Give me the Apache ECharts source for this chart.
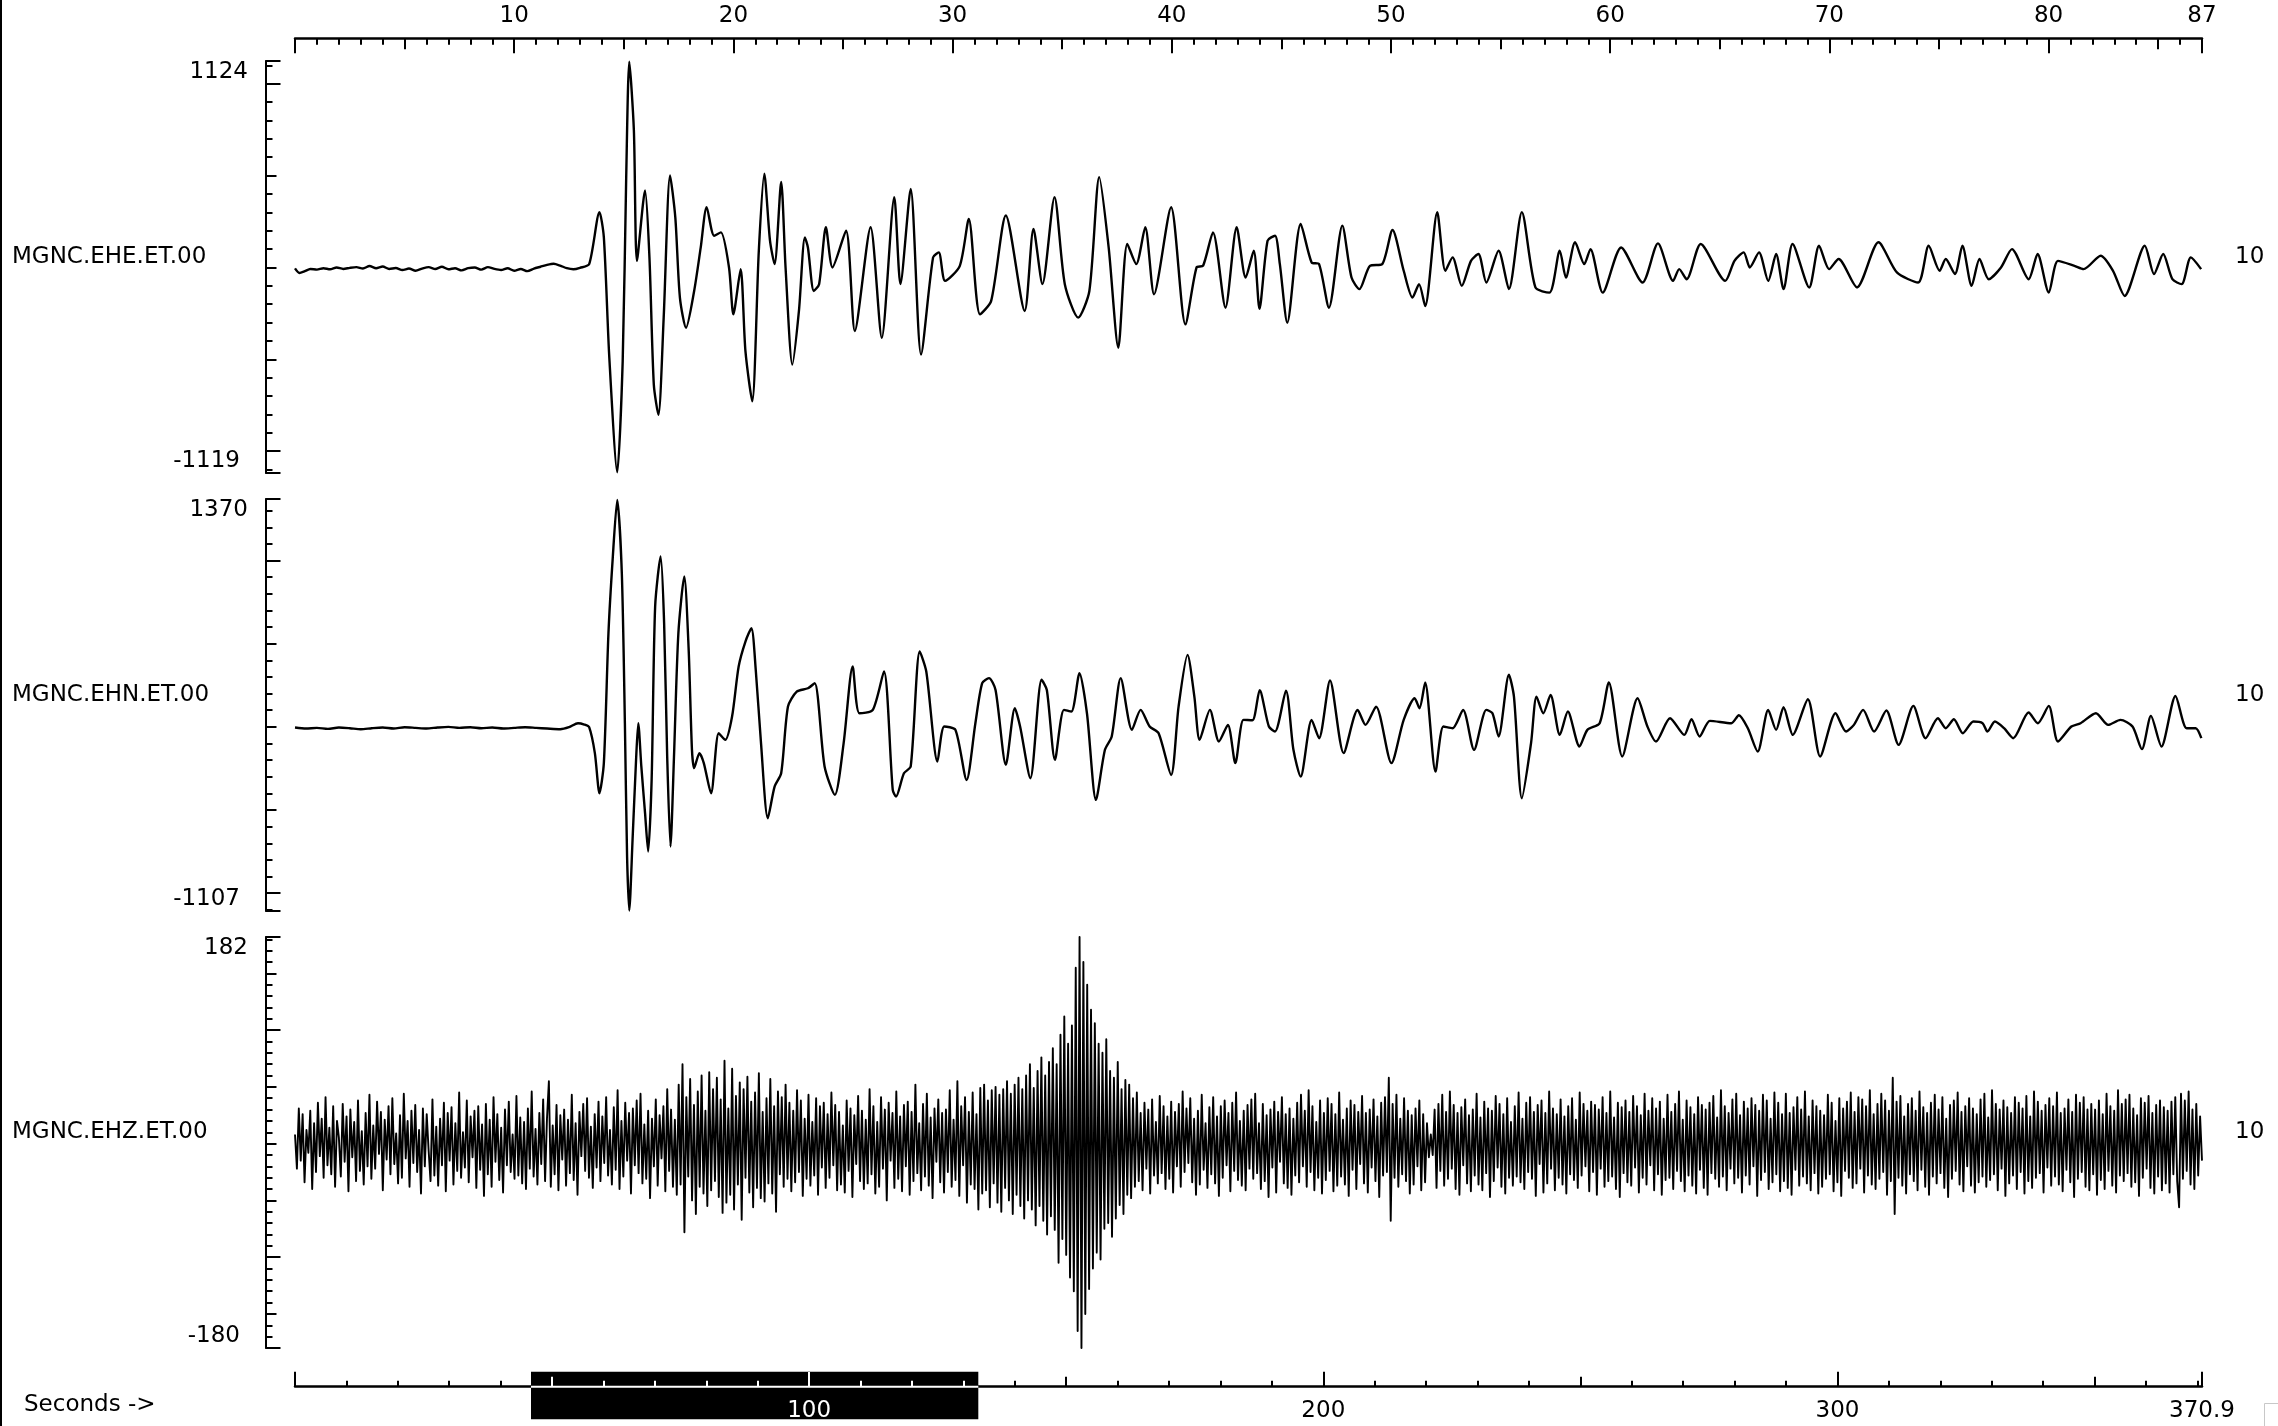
<!DOCTYPE html>
<html><head><meta charset="utf-8">
<script src="https://cdn.jsdelivr.net/npm/echarts@6/dist/echarts.min.js"></script>
<style>html,body{margin:0;padding:0;background:#fff}#c{width:2278px;height:1426px}</style>
</head><body><div id="c"></div>
<script>
// ---------------- data ----------------
const stationNames = ['MGNC.EHE.ET.00', 'MGNC.EHN.ET.00', 'MGNC.EHZ.ET.00'];
const scaleLabels = ['10', '10', '10'];
const ampMax = [1124, 1370, 182];
const ampMin = [-1119, -1107, -180];
const windowSeconds = 87;
const totalSeconds = 370.9;
const windowStart = 45.9;
const windowEnd = 132.9;
const topMajorLabels = [10, 20, 30, 40, 50, 60, 70, 80, 87];
const bottomMajorLabels = [100, 200, 300, 370.9];
const bottomAxisTitle = 'Seconds ->';

const eheTime = [0,0.2,0.45,0.7,1.0,1.3,1.6,1.9,2.2,2.5,2.8,3.1,3.4,3.7,4.0,4.3,4.6,4.9,5.2,5.5,5.8,6.1,6.4,6.7,7.0,7.3,7.6,7.9,8.2,8.5,8.8,9.1,9.4,9.7,10.0,10.3,10.6,10.9,11.2,11.5,11.8,12.1,12.4,12.7,13.0,13.42,
13.89,14.09,14.34,14.70,14.95,15.11,15.25,15.46,15.60,15.97,16.17,16.37,16.58,16.82,17.11,17.35,17.56,17.84,18.21,18.51,18.78,19.12,19.43,19.80,20.00,20.33,20.55,20.86,21.16,21.41,21.67,21.88,22.18,22.38,22.69,22.99,23.26,23.40,23.67,23.91,24.22,24.52,25.14,25.54,26.26,26.77,27.34,27.62,28.09,28.56,29.11,29.37,29.66,30.33,30.74,31.25,31.76,32.43,33.29,33.69,34.10,34.65,35.12,35.73,36.24,36.69,37.12,37.56,37.97,38.38,38.79,39.19,39.97,40.62,41.13,41.43,41.88,42.45,42.96,43.37,43.74,44.00,
44.37,44.71,44.93,45.27,45.88,46.38,46.72,47.17,47.78,48.20,48.56,49.04,49.60,50.07,50.58,50.98,51.28,51.56,52.11,52.48,52.81,53.23,53.65,53.99,54.35,54.91,55.38,55.97,56.59,57.23,57.70,57.98,58.40,58.82,59.10,59.66,60.50,61.48,62.18,62.87,63.15,63.49,64.13,65.25,65.67,66.09,66.37,66.79,67.21,67.57,67.91,68.32,69.08,69.53,69.99,70.42,71.26,72.24,73.08,74.05,74.53,75.03,75.31,75.73,76.07,76.49,76.85,77.27,77.83,78.33,79.09,79.50,80.01,80.43,81.18,81.60,82.38,82.94,83.47,84.39,84.81,85.23,85.65,86.07,86.49,86.96];
const eheAmp = [-5,-30,-20,-8,-12,-4,-10,0,-8,-2,2,-6,8,-4,5,-8,-3,-14,-6,-18,-6,2,-8,4,-10,-4,-16,-4,0,-12,2,-8,-14,-4,-18,-8,-20,-6,4,14,20,10,-4,-10,-2,18,
301,164,-492,-1115,-510,492,1120,747,36,419,55,-638,-802,-273,501,273,-164,-328,-128,109,328,173,191,0,-255,-9,-456,-729,91,510,146,18,465,0,-529,-237,164,109,-128,-91,219,0,200,-346,219,-383,383,-91,428,-474,55,82,-73,9,264,-255,-182,283,-237,210,-91,383,-91,-273,-128,492,109,-437,128,18,219,-146,328,-310,0,10,191,-219,219,-55,91,-225,
146,173,18,-301,237,27,18,-219,228,-55,-118,9,18,204,-18,-164,-91,-210,301,-18,55,-100,36,73,-82,91,-118,301,-109,-137,91,-55,137,18,100,-137,109,-82,131,-73,-9,-64,128,-73,36,82,0,82,-73,73,-118,128,-109,118,-9,46,-109,137,-27,-82,118,-18,46,-36,118,-100,46,-64,0,100,-64,73,-137,36,9,-9,64,-18,-155,118,-36,73,-64,-91,55,-9];

const ehnTime = [0,0.5,1.0,1.5,2.0,2.5,3.0,3.5,4.0,4.5,5.0,5.5,6.0,6.5,7.0,7.5,8.0,8.5,9.0,9.5,10.0,10.5,11.0,11.5,12.1,12.5,12.91,13.2,13.42,
13.68,13.89,14.09,14.30,14.50,14.70,14.91,15.05,15.15,15.25,15.40,15.56,15.66,15.80,15.97,16.11,16.27,16.43,16.68,16.84,16.98,17.13,17.29,17.49,17.76,17.96,18.11,18.21,18.45,18.65,18.98,19.33,19.63,19.94,20.24,20.55,20.82,21.02,21.26,21.57,21.88,22.18,22.49,22.89,23.40,23.71,24.16,24.63,25.03,25.44,25.75,26.36,26.87,27.27,27.42,27.78,28.09,28.50,28.80,29.31,29.62,30.13,30.64,31.04,31.35,31.66,31.96,32.43,32.84,33.08,33.55,34.06,34.30,34.67,35.08,35.42,35.79,36.13,36.54,36.95,37.26,37.67,38.18,38.58,38.99,39.40,39.97,40.31,40.72,41.03,41.27,41.74,42.15,42.56,42.90,43.27,43.68,44.01,
44.43,44.71,45.21,45.55,45.88,46.38,46.72,47.22,47.84,48.48,48.84,49.32,50.02,50.58,51.08,51.30,51.56,52.03,52.39,52.81,53.29,53.79,54.35,54.63,54.91,55.38,55.61,55.97,56.39,56.64,56.95,57.28,57.70,58.07,58.60,58.96,59.52,59.94,60.55,61.25,61.70,62.09,62.73,63.38,63.71,64.08,64.55,65.53,65.87,66.28,66.73,67.21,67.57,67.91,68.33,69.02,69.58,70.28,70.76,71.12,71.54,72.04,72.60,73.16,73.83,74.39,74.95,75.31,75.68,76.09,76.57,76.99,77.21,77.55,77.97,78.39,79.09,79.51,80.01,80.43,81.04,81.46,82.16,82.72,83.28,83.83,84.26,84.67,85.15,85.79,86.30,86.71,86.97];
const ehnAmp = [-4,-10,-6,-12,-4,-8,-14,-8,-4,-10,-2,-6,-10,-4,0,-6,-2,-8,-4,-10,-6,-2,-6,-10,-14,-2,22,14,-2,
-158,-399,-218,563,1024,1365,924,22,-780,-1104,-679,-198,22,-238,-519,-749,-319,723,1024,623,-178,-719,-178,563,904,463,-138,-248,-158,-218,-399,-38,-78,62,363,513,593,343,-98,-549,-359,-279,122,212,232,263,-238,-409,-98,363,82,102,333,-379,-419,-279,-238,453,333,-208,2,-18,-319,22,263,293,222,-228,112,2,-309,283,222,-198,102,92,323,82,-439,-138,-58,293,-18,102,2,-38,-289,122,433,182,-78,102,-88,12,-218,42,40,220,
2,-28,218,-138,-299,42,-68,279,-158,102,12,122,-218,42,172,112,267,-269,2,-8,102,-138,102,82,-58,313,182,-429,-98,182,82,192,-48,92,-118,-18,22,267,-178,172,2,-88,52,-48,46,-58,36,22,70,-8,-148,102,-18,118,-48,166,-178,82,-28,12,102,-28,98,-108,126,-68,52,-8,46,-38,32,22,-28,32,-8,-68,86,22,126,-88,2,22,82,12,42,2,-134,66,-118,186,-8,-8,-68];

// EHZ samples, evenly spaced over the 87 s window
const ehzAmp = [
8,-22,31,-15,26,-34,12,-8,29,-40,18,-25,36,-11,22,-30,41,-19,14,-27,
33,-38,20,5,-29,35,-16,24,-42,30,-12,19,-33,38,-24,11,-36,27,-20,43,
-31,16,-22,37,-9,28,-41,21,-14,33,-27,40,-18,9,-35,25,-30,44,-13,20,
-38,29,-17,34,-25,12,-44,31,-20,26,-6,-33,39,-28,15,-37,22,-19,36,-42,
27,-15,32,-36,18,-24,45,-30,10,-21,38,-34,24,-12,29,-39,33,-23,17,-46,
35,-27,21,-38,41,-16,26,-32,14,-43,30,-19,37,-25,8,-31,42,-28,23,-35,
19,-40,31,-22,46,-29,13,-36,27,-18,39,-33,22,55,-38,16,-27,34,-41,25,
-14,30,-37,21,-26,43,-32,18,-45,28,-11,35,-24,40,-30,15,-39,26,-21,37,
-33,24,-17,41,-28,12,-36,32,-23,47,-40,20,-29,36,-15,27,-44,31,-19,38,
-26,44,-35,17,-31,29,-48,22,-20,39,-37,25,-13,33,-42,48,-24,30,-38,21,
-45,52,-36,70,-78,41,-29,57,-50,34,-62,46,-38,60,-44,29,-55,63,-41,48,
-33,58,-47,39,-61,73,-52,31,-45,66,-58,42,-36,54,-67,48,-30,59,-43,37,
-56,45,-39,62,-48,28,-51,40,-35,57,-44,33,-60,46,-27,41,-38,52,-31,36,
-42,29,-34,47,-25,38,-46,22,-31,43,-37,19,-28,40,-45,33,-21,36,-39,26,
-30,45,-19,34,-41,28,-36,16,-43,38,-24,31,-47,25,-18,42,-33,29,-40,21,
-35,48,-27,33,-44,19,-38,41,-22,30,-50,36,-15,27,-39,46,-31,24,-42,34,
-20,37,-45,28,-33,52,-26,18,-41,35,-29,44,-37,23,-48,31,-16,39,-34,27,
-43,30,-25,47,-38,21,-32,55,-46,33,-19,41,-52,28,-36,45,-40,26,-58,49,
-44,52,-41,38,-56,47,-35,50,-52,43,-60,48,-39,55,-50,44,-62,52,-45,58,
-55,48,-66,60,-50,70,-58,49,-72,64,-55,76,-68,60,-80,72,-64,84,-76,70,
-105,96,-84,112,-98,88,-118,104,-130,155,-165,182,-180,160,-150,140,-128,118,-110,106,
-96,88,-102,80,-75,92,-70,64,-82,58,-66,72,-54,48,-62,56,-45,52,-48,40,
-38,45,-33,27,-41,36,-22,30,-44,39,-28,19,-35,42,-26,33,-40,24,-31,37,
-43,28,-20,35,-38,46,-25,31,-17,40,-34,22,-45,29,-36,43,-23,18,-39,32,
-27,41,-35,24,-46,33,-30,38,-19,27,-42,36,-24,45,-32,20,-37,29,-41,34,
-22,39,-31,44,-26,18,-40,35,-33,25,-47,30,-21,37,-43,28,-16,41,-35,26,
-39,31,-45,22,-28,36,-34,43,-20,29,-38,47,-25,33,-41,19,-30,38,-44,27,
-32,40,-24,35,-42,26,-37,45,-29,21,-36,31,-46,38,-23,34,-40,28,-18,42,
-35,27,-43,30,-21,39,-33,24,-47,36,-28,41,-25,58,-68,35,-30,43,-38,22,
-27,40,-33,29,-44,25,-36,31,-20,38,-41,26,-34,18,-12,8,-10,30,-39,35,
-24,43,-37,28,-31,46,-22,34,-40,27,-45,32,-19,39,-35,25,-42,30,-28,44,
-36,23,-41,37,-26,31,-47,29,-33,42,-21,35,-38,26,-44,40,-30,19,-37,33,
-29,45,-34,22,-40,36,-25,41,-31,28,-46,34,-18,38,-43,27,-35,46,-22,31,
-41,26,-30,39,-36,24,-44,33,-27,40,-32,21,-39,45,-28,35,-20,29,-42,37,
-25,34,-45,30,-22,41,-38,27,-33,46,-29,23,-40,36,-47,32,-26,38,-34,28,
-37,42,-21,33,-43,25,-30,44,-36,29,-19,40,-41,31,-27,37,-45,22,-32,43,
-30,28,-40,35,-24,46,-33,21,-42,38,-28,32,-37,26,-44,41,-23,34,-39,30,
-45,36,-26,42,-31,23,-38,47,-29,33,-41,27,-22,39,-35,44,-30,25,-43,37,
-28,31,-36,40,-20,34,-46,29,-32,43,-25,38,-40,22,-34,45,-27,36,-42,26,
-33,44,-39,27,-45,32,-23,41,-37,30,-29,46,-35,24,-41,38,-26,33,-44,29,
-38,25,-31,43,-27,36,-42,20,-34,40,-46,31,-24,37,-30,45,-39,28,-35,41,
-22,39,-43,33,-28,47,-36,26,-40,35,-31,44,-25,38,-45,29,-33,58,-62,37,
-30,42,-37,24,-44,35,-27,40,-33,29,-41,46,-23,32,-38,27,-45,36,-29,43,
-35,30,-26,41,-39,22,-47,34,-31,38,-24,45,-36,28,-42,33,-20,40,-37,31,
-43,26,-34,39,-29,44,-38,23,-32,47,-27,35,-41,30,-22,38,-46,32,-35,27,
-28,41,-40,36,-25,31,-44,42,-33,24,-39,46,-30,37,-26,29,-43,34,-21,40,
-37,33,-29,45,-36,27,-42,31,-23,39,-34,28,-47,43,-31,36,-25,41,-38,30,
-41,35,-27,30,-45,38,-32,26,-40,44,-24,33,-37,29,-43,47,-28,35,-33,39,
-26,43,-38,31,-34,25,-46,40,-30,36,-22,42,-39,27,-44,34,-29,38,-41,32,
-35,29,-43,37,-27,41,-33,-56,44,-31,38,-24,46,-36,30,-40,35,-28,24,-15];

// ---------------- layout / style ----------------
const FONT = 'DejaVu Sans';
const FS = 23;
const PLOT_L = 295, PLOT_W = 1907;
const panelTops = [61, 499, 937];
const panelHs = [412, 412, 411];
const Y_AXIS_OFFSET = 29.5;
const TOP_AXIS_OFFSET = 22.3;
const minorStepY = [100, 100, 10], medStepY = [500, 500, 50], majorStepY = [1000, 1000, 100];

function multiples(lo, hi, step) {
  const out = [];
  for (let k = Math.ceil(lo / step - 1e-9); k * step <= hi + 1e-9; k++) out.push(+(k * step).toFixed(6));
  return out;
}
const fmt = v => String(v);

const topMajor = multiples(0, windowSeconds, 10).concat([windowSeconds]);
const topMed = multiples(0, windowSeconds, 5).filter(v => v % 10 !== 0);
const topMinor = multiples(0, windowSeconds, 1).filter(v => v % 5 !== 0);
const botMajor = multiples(0, totalSeconds, 100).concat([totalSeconds]);
const botMed = multiples(0, totalSeconds, 50).filter(v => v % 100 !== 0);
const botMinor = multiples(0, totalSeconds, 10).filter(v => v % 50 !== 0);
const inWin = v => v > windowStart && v < windowEnd;

const xAxes = [];
const yAxes = [];
const grids = [];
for (let p = 0; p < 3; p++) grids.push({ left: PLOT_L, top: panelTops[p], width: PLOT_W, height: panelHs[p], containLabel: false });
grids.push({ left: PLOT_L, top: 1360, width: PLOT_W, height: 26.7, containLabel: false });

const noLine = { show: false, onZero: false };
function tickAxisX(gridIndex, min, max, position, offset, vals, len, color, opts) {
  return Object.assign({
    type: 'value', gridIndex, min, max, position, offset,
    axisLine: noLine,
    axisTick: { show: true, inside: true, length: len, customValues: vals, lineStyle: { color, width: 2 } },
    axisLabel: { show: false },
    splitLine: { show: false }
  }, opts || {});
}
xAxes.push(tickAxisX(0, 0, windowSeconds, 'top', TOP_AXIS_OFFSET, topMajor, 14.5, '#000', {
  axisLine: { show: true, onZero: false, lineStyle: { color: '#000', width: 2.5 } },
  axisLabel: { show: true, customValues: topMajorLabels, formatter: fmt, fontFamily: FONT, fontSize: FS, color: '#000', margin: 11 }
}));
xAxes.push(tickAxisX(0, 0, windowSeconds, 'top', TOP_AXIS_OFFSET, topMed, 10.5, '#000'));
xAxes.push(tickAxisX(0, 0, windowSeconds, 'top', TOP_AXIS_OFFSET, topMinor, 6, '#000'));
xAxes.push({ type: 'value', gridIndex: 1, min: 0, max: windowSeconds, show: false, axisLine: noLine });
xAxes.push({ type: 'value', gridIndex: 2, min: 0, max: windowSeconds, show: false, axisLine: noLine });
xAxes.push(tickAxisX(3, 0, totalSeconds, 'bottom', 0, botMajor, 15, '#000', {
  axisLine: { show: true, onZero: false, lineStyle: { color: '#000', width: 2.5 } },
  axisLabel: { show: true, customValues: bottomMajorLabels, formatter: fmt, fontFamily: FONT, fontSize: FS, color: '#000', margin: 13 }
}));
xAxes.push(tickAxisX(3, 0, totalSeconds, 'bottom', 0, botMed, 10, '#000'));
xAxes.push(tickAxisX(3, 0, totalSeconds, 'bottom', 0, botMinor, 6, '#000'));
xAxes.push(tickAxisX(3, 0, totalSeconds, 'bottom', 0, botMajor.filter(inWin), 15, '#fff', {
  z: 10,
  axisLabel: { show: true, customValues: bottomMajorLabels.filter(inWin), formatter: fmt, fontFamily: FONT, fontSize: FS, color: '#fff', margin: 13 }
}));
xAxes.push(tickAxisX(3, 0, totalSeconds, 'bottom', 0, botMed.filter(inWin), 10, '#fff', { z: 10 }));
xAxes.push(tickAxisX(3, 0, totalSeconds, 'bottom', 0, botMinor.filter(inWin), 6, '#fff', { z: 10 }));

for (let p = 0; p < 3; p++) {
  const mn = ampMin[p], mx = ampMax[p];
  const major = multiples(mn, mx, majorStepY[p]).filter(v => v !== 0).concat([mn, mx]);
  const med = multiples(mn, mx, medStepY[p]).filter(v => !major.includes(v));
  const minor = multiples(mn, mx, minorStepY[p]).filter(v => Math.abs(v % medStepY[p]) > 1e-9);
  const base = { type: 'value', gridIndex: p, min: mn, max: mx, position: 'left', offset: Y_AXIS_OFFSET, splitLine: { show: false }, axisLine: noLine };
  yAxes.push(Object.assign({}, base, {
    axisLine: { show: true, onZero: false, lineStyle: { color: '#000', width: 2 } },
    axisTick: { show: true, inside: true, length: 15, customValues: major, lineStyle: { color: '#000', width: 2 } },
    axisLabel: { show: false }
  }));
  yAxes.push(Object.assign({}, base, {
    axisTick: { show: true, inside: true, length: 11, customValues: med, lineStyle: { color: '#000', width: 2 } },
    axisLabel: { show: false }
  }));
  yAxes.push(Object.assign({}, base, {
    axisTick: { show: true, inside: true, length: 7, customValues: minor, lineStyle: { color: '#000', width: 2 } },
    axisLabel: { show: false }
  }));
  yAxes.push(Object.assign({}, base, {
    axisTick: { show: false },
    axisLabel: { show: true, customValues: [mx], formatter: fmt, fontFamily: FONT, fontSize: FS, color: '#000', margin: 17.5, verticalAlign: 'top' }
  }));
  yAxes.push(Object.assign({}, base, {
    axisTick: { show: false },
    axisLabel: { show: true, customValues: [mn], formatter: fmt, fontFamily: FONT, fontSize: FS, color: '#000', margin: 25.5, verticalAlign: 'bottom' }
  }));
}
yAxes.push({ type: 'value', gridIndex: 3, min: 0, max: 1, show: false, axisLine: noLine });

const ehzDt = windowSeconds / (ehzAmp.length - 1);
const traceStyle = (w) => ({ color: '#000', width: w, join: 'round' });
const series = [
  { type: 'line', xAxisIndex: 0, yAxisIndex: 0, showSymbol: false, symbol: 'none', smooth: 0.25, lineStyle: traceStyle(2.4), silent: true,
    data: eheTime.map((t, i) => [t, eheAmp[i]]) },
  { type: 'line', xAxisIndex: 3, yAxisIndex: 5, showSymbol: false, symbol: 'none', smooth: 0.25, lineStyle: traceStyle(2.4), silent: true,
    data: ehnTime.map((t, i) => [t, ehnAmp[i]]) },
  { type: 'line', xAxisIndex: 4, yAxisIndex: 10, showSymbol: false, symbol: 'none', lineStyle: traceStyle(1.9), silent: true,
    data: ehzAmp.map((v, i) => [i * ehzDt, v]) },
  { type: 'custom', xAxisIndex: 5, yAxisIndex: 15, z: 3, silent: true,
    data: [[windowStart, 0, windowEnd]],
    renderItem(params, api) {
      const p0 = api.coord([api.value(0), 0]);
      const p1 = api.coord([api.value(2), 0]);
      const cs = params.coordSys;
      const baseY = cs.y + cs.height;
      return { type: 'group', children: [
        { type: 'rect', shape: { x: p0[0], y: baseY - 15, width: p1[0] - p0[0], height: 47.6 }, style: { fill: '#000' } },
        { type: 'line', shape: { x1: p0[0], y1: baseY, x2: p1[0], y2: baseY }, style: { stroke: '#fff', lineWidth: 2 } }
      ] };
    } }
];

const graphics = [
  { type: 'line', shape: { x1: 1, y1: 0, x2: 1, y2: 1426 }, style: { stroke: '#000', lineWidth: 2 } },
  { type: 'rect', shape: { x: 2264.5, y: 1403.5, width: 30, height: 40 }, style: { fill: 'none', stroke: '#c8c8c8', lineWidth: 1 } },
  { type: 'text', x: 24, y: 1405, style: { text: bottomAxisTitle, fill: '#000', fontFamily: FONT, fontSize: FS, align: 'left', verticalAlign: 'middle' } }
];
for (let p = 0; p < 3; p++) {
  const cy = panelTops[p] + panelHs[p] / 2 - 10;
  graphics.push({ type: 'text', x: 12, y: cy, style: { text: stationNames[p], fill: '#000', fontFamily: FONT, fontSize: FS, align: 'left', verticalAlign: 'middle' } });
  graphics.push({ type: 'text', x: 2235, y: cy, style: { text: scaleLabels[p], fill: '#000', fontFamily: FONT, fontSize: FS, align: 'left', verticalAlign: 'middle' } });
}

const chart = echarts.init(document.getElementById('c'), null, { renderer: 'canvas' });
chart.setOption({
  animation: false,
  backgroundColor: '#fff',
  grid: grids,
  xAxis: xAxes,
  yAxis: yAxes,
  series,
  graphic: graphics
});
</script></body></html>
